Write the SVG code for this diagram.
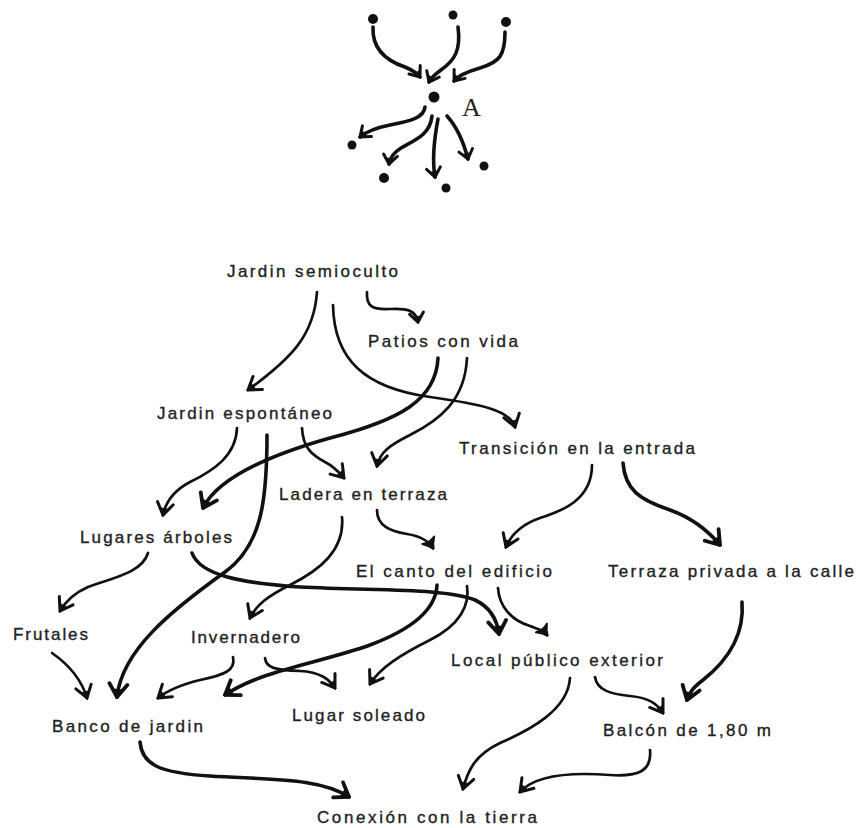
<svg xmlns="http://www.w3.org/2000/svg" width="856" height="828" viewBox="0 0 856 828">
<style>
.t{font-family:"Liberation Sans","Arial",sans-serif;font-size:17px;fill:#222;stroke:#222;stroke-width:0.35}
.c{fill:none;stroke:#111;stroke-width:2.7;stroke-linecap:round;stroke-linejoin:round}
.k{stroke-width:3.6}
.dot{fill:#111}
</style>
<defs>
<marker id="v" viewBox="-16 -12 18 24" refX="0" refY="0" markerWidth="18" markerHeight="24" orient="auto" markerUnits="userSpaceOnUse">
<path d="M-12,-8 L0,0 L-12,8" fill="none" stroke="#111" stroke-width="3" stroke-linecap="round"/>
<path d="M-7,-4 L1,0 L-7,4 Z" fill="#111"/>
</marker>
<marker id="vb" viewBox="-17 -13 19 26" refX="0" refY="0" markerWidth="19" markerHeight="26" orient="auto" markerUnits="userSpaceOnUse">
<path d="M-13,-9 L0,0 L-13,9" fill="none" stroke="#111" stroke-width="3.8" stroke-linecap="round"/>
<path d="M-8,-5 L1.5,0 L-8,5 Z" fill="#111"/>
</marker>
<marker id="blob" viewBox="-13 -10 15 20" refX="0" refY="0" markerWidth="15" markerHeight="20" orient="auto" markerUnits="userSpaceOnUse">
<path d="M-9,-7 Q-4,-2 1,0 Q-4,2 -9,7 Q-6,0 -9,-7 Z" fill="#111" stroke="#111" stroke-width="2" stroke-linejoin="round"/>
</marker>
<marker id="vs" viewBox="-13 -10 15 20" refX="0" refY="0" markerWidth="15" markerHeight="20" orient="auto" markerUnits="userSpaceOnUse">
<path d="M-9,-7 L0,0 L-9,7" fill="none" stroke="#111" stroke-width="3" stroke-linecap="round"/>
<path d="M-6,-3.5 L0.8,0 L-6,3.5 Z" fill="#111"/>
</marker>
</defs>
<rect width="856" height="828" fill="#fff"/>

<!-- top small diagram -->
<g id="dot-top-left"><circle class="dot" cx="373" cy="19" r="5"/></g>
<g id="dot-top-mid"><circle class="dot" cx="453" cy="15" r="4.5"/></g>
<g id="dot-top-right"><circle class="dot" cx="506" cy="22" r="5"/></g>
<g id="dot-A"><circle class="dot" cx="434" cy="97" r="5.5"/>
<text x="462" y="116" style="font-family:'Liberation Serif','Times New Roman',serif;font-size:26px;fill:#222">A</text></g>
<g id="dot-bl1"><circle class="dot" cx="352" cy="145" r="4.5"/></g>
<g id="dot-bl2"><circle class="dot" cx="384" cy="178" r="5"/></g>
<g id="dot-b3"><circle class="dot" cx="446" cy="188" r="4.5"/></g>
<g id="dot-br"><circle class="dot" cx="484" cy="166" r="4.5"/></g>

<g id="top-connectors">
<path class="c k" marker-end="url(#vs)" d="M373,27 C372,48 384,60 405,67 C412,70 417,73 420,77"/>
<path class="c k" marker-end="url(#vs)" d="M458,27 C461,50 455,60 441,70 C434,75 431,78 429,82"/>
<path class="c k" marker-end="url(#vs)" d="M505,32 C505,55 500,62 480,68 C466,72 458,76 454,81"/>
<path class="c k" marker-end="url(#vs)" d="M425,107 C424,118 410,121 390,125 C375,128 366,132 360,137"/>
<path class="c k" marker-end="url(#vs)" d="M432,116 C430,135 415,140 401,148 C393,153 390,158 389,164"/>
<path class="c k" marker-end="url(#vs)" d="M438,119 C434,140 432,160 435,177"/>
<path class="c k" marker-end="url(#vs)" d="M447,116 C457,127 463,140 468,159"/>
</g>

<!-- main diagram nodes -->
<g id="jardin-semioculto"><text class="t" x="227" y="277" textLength="171" lengthAdjust="spacing">Jardin semioculto</text></g>
<g id="patios-con-vida"><text class="t" x="368" y="347" textLength="150" lengthAdjust="spacing">Patios con vida</text></g>
<g id="jardin-espontaneo"><text class="t" x="157" y="419" textLength="175" lengthAdjust="spacing">Jardin espontáneo</text></g>
<g id="transicion-entrada"><text class="t" x="459" y="454" textLength="236" lengthAdjust="spacing">Transición en la entrada</text></g>
<g id="ladera-terraza"><text class="t" x="279" y="500" textLength="168" lengthAdjust="spacing">Ladera en terraza</text></g>
<g id="lugares-arboles"><text class="t" x="80" y="543" textLength="152" lengthAdjust="spacing">Lugares árboles</text></g>
<g id="canto-edificio"><text class="t" x="356" y="577" textLength="196" lengthAdjust="spacing">El canto del edificio</text></g>
<g id="terraza-privada"><text class="t" x="608" y="577" textLength="246" lengthAdjust="spacing">Terraza privada a la calle</text></g>
<g id="frutales"><text class="t" x="13" y="640" textLength="75" lengthAdjust="spacing">Frutales</text></g>
<g id="invernadero"><text class="t" x="191" y="643" textLength="109" lengthAdjust="spacing">Invernadero</text></g>
<g id="local-publico"><text class="t" x="451" y="666" textLength="212" lengthAdjust="spacing">Local público exterior</text></g>
<g id="banco-jardin"><text class="t" x="52" y="732" textLength="151" lengthAdjust="spacing">Banco de jardin</text></g>
<g id="lugar-soleado"><text class="t" x="292" y="721" textLength="133" lengthAdjust="spacing">Lugar soleado</text></g>
<g id="balcon"><text class="t" x="603" y="736" textLength="168" lengthAdjust="spacing">Balcón de 1,80 m</text></g>
<g id="conexion-tierra"><text class="t" x="317" y="823" textLength="220" lengthAdjust="spacing">Conexión con la tierra</text></g>

<g id="connectors">
<path class="c" marker-end="url(#v)" d="M317,292 C314,335 292,358 248,390"/>
<path class="c" marker-end="url(#v)" d="M333,305 C334,360 365,388 430,397 C480,404 510,410 515,427"/>
<path class="c" marker-end="url(#vs)" d="M367,292 C366,306 372,310 390,309 C406,308 416,310 418,322"/>
<path class="c k" marker-end="url(#vb)" d="M438,358 C436,400 400,420 330,438 C270,455 218,478 203,508"/>
<path class="c" marker-end="url(#v)" d="M467,358 C465,400 440,420 410,435 C390,445 380,452 377,466"/>
<path class="c" marker-end="url(#v)" d="M237,428 C236,455 215,470 190,482 C175,490 166,500 163,515"/>
<path class="c k" marker-end="url(#vb)" d="M267,435 C267,500 262,545 225,572 C172,610 122,650 117,697"/>
<path class="c" marker-end="url(#v)" d="M302,428 C303,448 312,455 325,462 C333,466 338,471 344,478"/>
<path class="c" marker-end="url(#v)" d="M148,553 C142,573 112,578 88,587 C74,593 66,601 60,611"/>
<path class="c k" marker-end="url(#vb)" d="M192,553 C200,575 240,583 300,587 C380,591 445,588 475,600 C490,607 497,620 499,634"/>
<path class="c" marker-end="url(#v)" d="M342,517 C345,550 320,570 290,585 C268,596 256,605 250,618"/>
<path class="c" marker-end="url(#blob)" d="M377,510 C377,526 390,531 407,534 C420,536 428,540 433,548"/>
<path class="c" marker-end="url(#v)" d="M592,465 C592,500 562,511 540,518 C520,525 511,535 506,547"/>
<path class="c k" marker-end="url(#vb)" d="M623,463 C625,490 640,500 670,510 C695,519 710,533 720,545"/>
<path class="c k" marker-end="url(#vb)" d="M437,585 C436,610 410,630 370,645 C320,663 262,670 225,695"/>
<path class="c" marker-end="url(#v)" d="M467,586 C470,605 460,625 430,640 C400,655 380,668 370,684"/>
<path class="c" marker-end="url(#blob)" d="M498,588 C499,605 510,620 530,626 C538,629 543,630 547,635"/>
<path class="c" marker-end="url(#v)" d="M233,657 C236,670 225,675 200,680 C180,685 168,690 158,698"/>
<path class="c" marker-end="url(#v)" d="M265,658 C266,668 275,670 300,671 C320,672 329,679 335,688"/>
<path class="c" marker-end="url(#v)" d="M52,653 C65,662 80,675 87,698"/>
<path class="c k" marker-end="url(#vb)" d="M742,602 C745,640 722,665 703,680 C694,687 690,691 687,700"/>
<path class="c" marker-end="url(#v)" d="M595,677 C597,690 610,694 630,696 C650,698 657,704 663,713"/>
<path class="c" marker-end="url(#v)" d="M570,678 C568,710 530,730 500,743 C475,755 468,770 463,789"/>
<path class="c" marker-end="url(#v)" d="M650,750 C652,770 640,777 610,775 C570,772 535,775 520,792"/>
<path class="c k" marker-end="url(#vb)" d="M140,742 C142,765 160,773 210,776 C275,780 320,778 349,797"/>
</g>
</svg>
